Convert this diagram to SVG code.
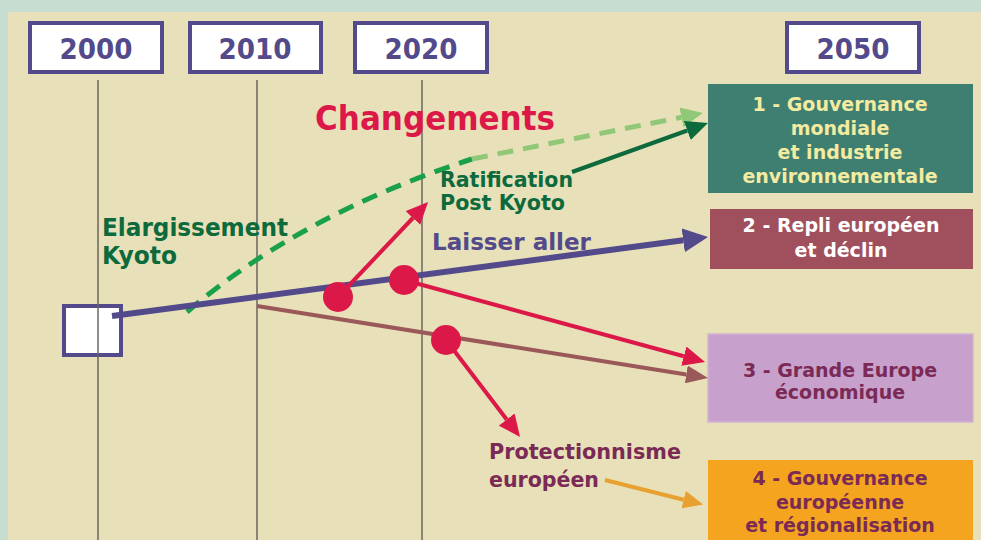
<svg xmlns="http://www.w3.org/2000/svg" width="981" height="540" viewBox="0 0 981 540">
<style>
text{font-family:"DejaVu Sans","Verdana",sans-serif;font-weight:bold}
.yr{fill:#fff;stroke:#524a8a;stroke-width:4}
.yt{font-size:28px;fill:#524a8a;text-anchor:middle}
.bt{font-size:19px;text-anchor:middle}
.vl{stroke:#6a6660;stroke-width:1.5}
</style>
<defs>
<marker id="mPurple" markerUnits="userSpaceOnUse" viewBox="0 0 25 24" markerWidth="25" markerHeight="24" refX="0" refY="12" orient="auto"><path d="M0,0 L25,12 L0,24 z" fill="#524a8a"/></marker>
<marker id="mRed" markerUnits="userSpaceOnUse" viewBox="0 0 22 20" markerWidth="22" markerHeight="20" refX="0" refY="10" orient="auto"><path d="M0,0 L22,10 L0,20 z" fill="#dc1848"/></marker>
<marker id="mBrown" markerUnits="userSpaceOnUse" viewBox="0 0 22 18" markerWidth="22" markerHeight="18" refX="0" refY="9" orient="auto"><path d="M0,0 L22,9 L0,18 z" fill="#9a5858"/></marker>
<marker id="mOrange" markerUnits="userSpaceOnUse" viewBox="0 0 20 18" markerWidth="20" markerHeight="18" refX="0" refY="9" orient="auto"><path d="M0,0 L20,9 L0,18 z" fill="#e8a030"/></marker>
<marker id="mDkGreen" markerUnits="userSpaceOnUse" viewBox="0 0 22 20" markerWidth="22" markerHeight="20" refX="0" refY="10" orient="auto"><path d="M0,0 L22,10 L0,20 z" fill="#0c6a3c"/></marker>
<marker id="mLtGreen" markerUnits="userSpaceOnUse" viewBox="0 0 22 20" markerWidth="22" markerHeight="20" refX="0" refY="10" orient="auto"><path d="M0,0 L22,10 L0,20 z" fill="#90c878"/></marker>
</defs>
<rect x="0" y="0" width="981" height="540" fill="#c8ddd2"/>
<rect x="8" y="12" width="973" height="528" fill="#e8e0b9"/>

<g id="year2000"><rect class="yr" x="30" y="23" width="132" height="49"/><text class="yt" x="96" y="59" textLength="73" lengthAdjust="spacingAndGlyphs">2000</text></g>
<g id="year2010"><rect class="yr" x="190" y="23" width="131" height="49"/><text class="yt" x="255" y="59" textLength="73" lengthAdjust="spacingAndGlyphs">2010</text></g>
<g id="year2020"><rect class="yr" x="355" y="23" width="132" height="49"/><text class="yt" x="421" y="59" textLength="73" lengthAdjust="spacingAndGlyphs">2020</text></g>
<g id="year2050"><rect class="yr" x="787" y="23" width="132" height="49"/><text class="yt" x="853" y="59" textLength="73" lengthAdjust="spacingAndGlyphs">2050</text></g>

<g id="start"><rect x="64" y="306" width="57" height="49" fill="#fff" stroke="#524a8a" stroke-width="4"/></g>

<g id="timelines">
<line class="vl" x1="98" y1="80" x2="98" y2="540"/>
<line class="vl" x1="257" y1="80" x2="257" y2="540"/>
<line class="vl" x1="422" y1="80" x2="422" y2="540"/>
</g>

<g id="scenario1"><rect x="708" y="84" width="265" height="109" fill="#3f7f72"/>
<text class="bt" fill="#f3eba0" x="840" y="111">1 - Gouvernance</text>
<text class="bt" fill="#f3eba0" x="840" y="135">mondiale</text>
<text class="bt" fill="#f3eba0" x="840" y="159">et industrie</text>
<text class="bt" fill="#f3eba0" x="840" y="183">environnementale</text></g>

<g id="scenario2"><rect x="710" y="209" width="263" height="60" fill="#a0505c"/>
<text class="bt" fill="#ffffff" x="841" y="232">2 - Repli européen</text>
<text class="bt" fill="#ffffff" x="841" y="257">et déclin</text></g>

<g id="scenario3"><rect x="708" y="334" width="265" height="88" fill="#c8a0cc" stroke="#d2b2d2" stroke-width="1.5"/>
<text class="bt" fill="#7a2a55" x="840" y="377">3 - Grande Europe</text>
<text class="bt" fill="#7a2a55" x="840" y="399">économique</text></g>

<g id="scenario4"><rect x="708" y="460" width="265" height="80" fill="#f5a41f"/>
<text class="bt" fill="#7a2a55" x="840" y="485">4 - Gouvernance</text>
<text class="bt" fill="#7a2a55" x="840" y="509">européenne</text>
<text class="bt" fill="#7a2a55" x="840" y="532">et régionalisation</text></g>

<g id="connectors" fill="none">
<path d="M187,312 Q300,215 472,159" stroke="#1aa04a" stroke-width="5" stroke-dasharray="16 10"/>
<line x1="472" y1="159" x2="681.4" y2="117.3" stroke="#90c878" stroke-width="5" stroke-dasharray="16 10" marker-end="url(#mLtGreen)"/>
<line x1="112" y1="316" x2="683.2" y2="240.3" stroke="#524a8a" stroke-width="6" marker-end="url(#mPurple)"/>
<line x1="257" y1="306" x2="686.3" y2="374.5" stroke="#9a5858" stroke-width="4" marker-end="url(#mBrown)"/>
<line x1="338" y1="297" x2="412.9" y2="218" stroke="#dc1848" stroke-width="4" marker-end="url(#mRed)"/>
<line x1="404" y1="280" x2="683.8" y2="356.2" stroke="#dc1848" stroke-width="4" marker-end="url(#mRed)"/>
<line x1="446" y1="340" x2="506.7" y2="419.5" stroke="#dc1848" stroke-width="4" marker-end="url(#mRed)"/>
<line x1="572" y1="172" x2="687.3" y2="130.5" stroke="#0c6a3c" stroke-width="4" marker-end="url(#mDkGreen)"/>
<line x1="605" y1="480" x2="683.7" y2="499.7" stroke="#e8a030" stroke-width="4" marker-end="url(#mOrange)"/>
</g>

<g id="branch-points" fill="#dc1848">
<circle cx="338" cy="297" r="15"/>
<circle cx="404" cy="280" r="15"/>
<circle cx="446" cy="340" r="15"/>
</g>

<g id="labels">
<text x="315" y="130" font-size="33" fill="#dc1848" textLength="240" lengthAdjust="spacingAndGlyphs">Changements</text>
<text x="440" y="187" font-size="21" fill="#0c6a3c" textLength="133" lengthAdjust="spacingAndGlyphs">Ratification</text>
<text x="440" y="210" font-size="21" fill="#0c6a3c" textLength="125" lengthAdjust="spacingAndGlyphs">Post Kyoto</text>
<text x="102" y="236" font-size="24" fill="#0c6a3c" textLength="186" lengthAdjust="spacingAndGlyphs">Elargissement</text>
<text x="102" y="264" font-size="24" fill="#0c6a3c" textLength="75" lengthAdjust="spacingAndGlyphs">Kyoto</text>
<text x="432" y="250" font-size="23" fill="#524a8a" textLength="159" lengthAdjust="spacingAndGlyphs">Laisser aller</text>
<text x="489" y="459" font-size="21" fill="#7a2a55" textLength="192" lengthAdjust="spacingAndGlyphs">Protectionnisme</text>
<text x="489" y="487" font-size="21" fill="#7a2a55" textLength="110" lengthAdjust="spacingAndGlyphs">européen</text>
</g>
</svg>
